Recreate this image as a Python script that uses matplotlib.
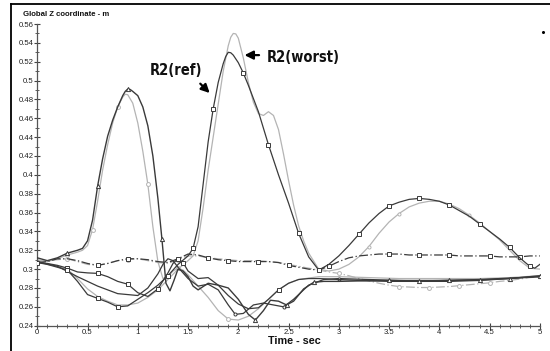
import numpy as np
import matplotlib
matplotlib.use("Agg")
import matplotlib.pyplot as plt
from matplotlib.lines import Line2D
from matplotlib.ticker import MultipleLocator, FuncFormatter

# ---- time histories of the global Z coordinate (m) ----
# first-peak pair
t_a = [0, 0.1, 0.2, 0.3, 0.4, 0.45, 0.5, 0.55, 0.6, 0.65, 0.7, 0.75, 0.8, 0.85, 0.875, 0.9,
       0.925, 0.95, 1.0, 1.05, 1.1, 1.15, 1.2, 1.24, 1.28, 1.32, 1.36, 1.4, 1.45, 1.5, 1.55,
       1.6, 1.7, 1.8, 1.9, 2.0, 2.1, 2.17, 2.25, 2.32, 2.4, 2.48, 2.55, 2.65, 2.75, 2.85, 3.0,
       3.2, 3.5, 3.8, 4.1, 4.4, 4.7, 5.0]
z_a = [0.312, 0.309, 0.312, 0.317, 0.320, 0.322, 0.330, 0.352, 0.388, 0.417, 0.441, 0.458,
       0.472, 0.484, 0.4885, 0.491, 0.4905, 0.4885, 0.484, 0.472, 0.452, 0.420, 0.375, 0.332,
       0.285, 0.277, 0.288, 0.300, 0.298, 0.292, 0.282, 0.278, 0.285, 0.283, 0.280, 0.268,
       0.252, 0.246, 0.256, 0.267, 0.266, 0.262, 0.266, 0.279, 0.286, 0.287, 0.287, 0.2875,
       0.288, 0.2875, 0.288, 0.2885, 0.290, 0.293]

t_b = [0, 0.1, 0.2, 0.3, 0.4, 0.45, 0.5, 0.55, 0.6, 0.65, 0.7, 0.75, 0.8, 0.85, 0.875, 0.9,
       0.95, 1.0, 1.05, 1.1, 1.15, 1.2, 1.25, 1.3, 1.35, 1.4, 1.45, 1.5, 1.6, 1.7, 1.8, 1.9,
       2.0, 2.1, 2.2, 2.3, 2.4, 2.5, 2.6, 2.8, 3.0, 3.3, 3.6, 4.0, 4.4, 4.7, 5.0]
z_b = [0.310, 0.308, 0.311, 0.315, 0.318, 0.320, 0.325, 0.342, 0.372, 0.405, 0.432, 0.455,
       0.472, 0.4825, 0.4855, 0.485, 0.476, 0.455, 0.425, 0.390, 0.345, 0.308, 0.290, 0.292,
       0.298, 0.301, 0.299, 0.294, 0.282, 0.270, 0.256, 0.247, 0.246, 0.250, 0.258, 0.268,
       0.278, 0.285, 0.289, 0.292, 0.292, 0.291, 0.290, 0.290, 0.290, 0.291, 0.293]

# R2 reference
t_ref = [0, 0.1, 0.2, 0.3, 0.4, 0.5, 0.6, 0.7, 0.8, 0.9, 1.0, 1.1, 1.2, 1.3, 1.4, 1.5, 1.55, 1.6,
         1.65, 1.7, 1.75, 1.8, 1.85, 1.875, 1.9, 1.925, 1.95, 2.0, 2.05, 2.1, 2.2, 2.3, 2.4, 2.5,
         2.6, 2.7, 2.8, 2.9, 3.0, 3.1, 3.2, 3.3, 3.4, 3.5, 3.6, 3.7, 3.8, 3.9, 4.0, 4.1, 4.2,
         4.3, 4.4, 4.5, 4.6, 4.7, 4.8, 4.9, 4.95, 5.0]
z_ref = [0.307, 0.305, 0.302, 0.299, 0.287, 0.273, 0.269, 0.265, 0.260, 0.261, 0.268, 0.275,
         0.283, 0.293, 0.305, 0.314, 0.322, 0.345, 0.390, 0.435, 0.470, 0.498, 0.518, 0.5255,
         0.530, 0.5295, 0.527, 0.519, 0.508, 0.495, 0.467, 0.432, 0.400, 0.370, 0.338, 0.313,
         0.299, 0.305, 0.314, 0.325, 0.337, 0.349, 0.359, 0.367, 0.371, 0.374, 0.375, 0.374,
         0.372, 0.368, 0.362, 0.356, 0.348, 0.340, 0.332, 0.323, 0.312, 0.303, 0.301, 0.305]

# R2 worst
t_worst = [0, 0.1, 0.2, 0.3, 0.4, 0.5, 0.6, 0.7, 0.8, 0.9, 1.0, 1.1, 1.2, 1.3, 1.4, 1.5, 1.55,
           1.6, 1.65, 1.7, 1.75, 1.8, 1.85, 1.9, 1.925, 1.95, 1.975, 2.0, 2.05, 2.1, 2.15, 2.2,
           2.25, 2.3, 2.35, 2.4, 2.45, 2.5, 2.55, 2.6, 2.65, 2.7, 2.8, 2.9, 3.0, 3.1, 3.2, 3.3,
           3.4, 3.5, 3.6, 3.7, 3.8, 3.9, 4.0, 4.1, 4.2, 4.3, 4.4, 4.5, 4.6, 4.7, 4.8, 4.9, 5.0]
z_worst = [0.308, 0.305, 0.303, 0.300, 0.290, 0.279, 0.271, 0.266, 0.262, 0.262, 0.264, 0.270,
           0.278, 0.289, 0.300, 0.309, 0.314, 0.330, 0.365, 0.405, 0.440, 0.475, 0.510, 0.537,
           0.546, 0.550, 0.5495, 0.545, 0.524, 0.498, 0.477, 0.465, 0.463, 0.467, 0.463, 0.448,
           0.422, 0.394, 0.368, 0.346, 0.330, 0.317, 0.300, 0.298, 0.300, 0.305, 0.313, 0.324,
           0.338, 0.350, 0.359, 0.366, 0.370, 0.372, 0.372, 0.369, 0.364, 0.357, 0.349, 0.340,
           0.331, 0.320, 0.309, 0.301, 0.300]

# near-flat pair
t_flat = [round(0.1 * i, 1) for i in range(51)]
z_e = [0.307, 0.308, 0.311, 0.311, 0.309, 0.306, 0.304, 0.306, 0.309, 0.311,
       0.311, 0.310, 0.308, 0.307, 0.311, 0.316, 0.315, 0.312, 0.310, 0.309,
       0.308, 0.308, 0.308, 0.308, 0.307, 0.304, 0.302, 0.300, 0.299, 0.303,
       0.308, 0.312, 0.314, 0.315, 0.316, 0.316, 0.316, 0.315, 0.315, 0.315,
       0.315, 0.315, 0.314, 0.314, 0.314, 0.314, 0.313, 0.313, 0.313, 0.314, 0.314]
z_f = [0.308, 0.309, 0.310, 0.311, 0.308, 0.305, 0.304, 0.306, 0.309, 0.310,
       0.311, 0.309, 0.307, 0.306, 0.310, 0.314, 0.314, 0.312, 0.311, 0.310,
       0.309, 0.309, 0.309, 0.308, 0.307, 0.305, 0.303, 0.301, 0.299, 0.297,
       0.2955, 0.293, 0.290, 0.2875, 0.285, 0.283, 0.2815, 0.281, 0.2805, 0.2805,
       0.281, 0.2815, 0.2825, 0.2835, 0.2845, 0.2855, 0.287, 0.288, 0.2895, 0.291, 0.292]

# low-lying pair
t_g = [0, 0.1, 0.2, 0.3, 0.4, 0.5, 0.6, 0.7, 0.8, 0.9, 1.0, 1.1, 1.2, 1.3, 1.35, 1.4, 1.45,
       1.5, 1.6, 1.7, 1.8, 1.9, 2.0, 2.1, 2.2, 2.3, 2.4, 2.5, 2.6, 2.7, 2.8, 3.0, 3.2, 3.5,
       3.8, 4.1, 4.4, 4.7, 5.0]
z_g = [0.307, 0.306, 0.304, 0.301, 0.297, 0.296, 0.2955, 0.292, 0.287, 0.284, 0.275, 0.271,
       0.279, 0.296, 0.306, 0.311, 0.307, 0.298, 0.290, 0.291, 0.283, 0.272, 0.263, 0.258,
       0.259, 0.268, 0.278, 0.285, 0.289, 0.290, 0.290, 0.289, 0.288, 0.287, 0.287, 0.287,
       0.288, 0.290, 0.292]

t_h = [0, 0.2, 0.4, 0.6, 0.8, 1.0, 1.1, 1.2, 1.25, 1.3, 1.35, 1.4, 1.5, 1.6, 1.7, 1.8, 1.9,
       1.97, 2.05, 2.15, 2.25, 2.35, 2.45, 2.55, 2.7, 2.85, 3.0, 3.3, 3.6, 4.0, 4.4, 4.8, 5.0]
z_h = [0.308, 0.303, 0.292, 0.282, 0.274, 0.272, 0.280, 0.295, 0.305, 0.311, 0.309, 0.302,
       0.290, 0.282, 0.284, 0.278, 0.262, 0.252, 0.253, 0.262, 0.264, 0.262, 0.260, 0.268,
       0.283, 0.289, 0.290, 0.289, 0.288, 0.288, 0.289, 0.291, 0.292]

y_ticks = [0.24, 0.26, 0.28, 0.30, 0.32, 0.34, 0.36, 0.38, 0.40, 0.42, 0.44, 0.46, 0.48,
           0.50, 0.52, 0.54, 0.56]
x_ticks = [0, 0.5, 1, 1.5, 2, 2.5, 3, 3.5, 4, 4.5, 5]

DARK = "#3a3a3a"
LIGHT = "#b4b4b4"

plt.rcParams["font.family"] = ["Liberation Sans", "DejaVu Sans"]

fig = plt.figure(figsize=(5.5, 3.51), dpi=100)
ax = fig.add_axes([0.0678, 0.0721, 0.9137, 0.8595])


def marks_at(t, when):
    t = np.asarray(t)
    return sorted({int(np.argmin(np.abs(t - w))) for w in when})


def trace(t, z, color, marker, when, ls="-", ms=3.2, lw=0.9, z_order=2):
    ax.plot(t, z, color=color, lw=lw, ls=ls, marker=marker, ms=ms,
            markevery=marks_at(t, when), mfc="white", mec=color, mew=0.7,
            zorder=z_order)


# light traces underneath
trace(t_b, z_b, LIGHT, "o", [0.3, 0.55, 0.8, 1.1, 1.4, 1.9, 2.4], ms=2.8)
trace(t_worst, z_worst, LIGHT, "o", [3.3, 3.6, 4.3], ms=2.2)
trace(t_flat, z_f, LIGHT, "o", [0.3, 0.6, 0.9, 1.4, 3.0, 3.6, 3.9, 4.2, 4.5], ls=(0, (7, 2, 1, 2)), ms=2.8)

# dark traces on top
trace(t_h, z_h, DARK, "o", [1.97, 2.45, 3.0], ms=2.2, z_order=3)
trace(t_g, z_g, DARK, "s", [0.3, 0.6, 0.9, 1.2, 1.45, 2.4], ms=3.0, z_order=3)
trace(t_flat, z_e, DARK, "s", [0.6, 0.95, 1.45, 1.7, 1.95, 2.25, 2.55, 2.9, 3.5, 3.8, 4.1, 4.5, 4.8],
      ls=(0, (7, 2, 1, 2)), ms=3.0, z_order=3)
trace(t_a, z_a, DARK, "^", [0.3, 0.62, 0.9, 1.24, 2.17, 2.48, 2.8, 3.5, 3.8, 4.1, 4.4, 4.7, 5.0],
      ms=3.0, lw=1.0, z_order=4)
trace(t_ref, z_ref, DARK, "s", [0.0, 0.3, 0.6, 0.8, 1.3, 1.55, 1.75, 2.05, 2.3, 2.6, 2.8, 3.2,
                                3.5, 3.8, 4.1, 4.4, 4.7, 4.9], ms=3.0, z_order=4)

ax.set_xlim(0, 5)
ax.set_ylim(0.24, 0.56)
ax.set_xticks(x_ticks)
ax.set_yticks(y_ticks)
ax.xaxis.set_minor_locator(MultipleLocator(0.1))
ax.yaxis.set_minor_locator(MultipleLocator(0.01))
fmt = FuncFormatter(lambda v, p: f"{v:g}")
ax.xaxis.set_major_formatter(fmt)
ax.yaxis.set_major_formatter(fmt)
ax.tick_params(which="major", direction="inout", length=4, width=0.8, color="#444444",
               labelsize=5.6, pad=0.5, labelcolor="#222222")
ax.tick_params(which="minor", direction="inout", length=2.5, width=0.6, color="#444444")
for side in ("top", "right"):
    ax.spines[side].set_visible(False)
for side in ("left", "bottom"):
    ax.spines[side].set_color("#555555")
    ax.spines[side].set_linewidth(0.9)
ax.set_facecolor("white")

fig.text(23 / 550, 1 - 15 / 351, "Global Z coordinate - m", fontsize=5.6, fontweight="bold",
         ha="left", va="center", color="#111111")
fig.text(294.5 / 550, 1 - 341 / 351, "Time - sec", fontsize=7.8, fontweight="bold",
         ha="center", va="center", color="#111111")

label_font = ["DejaVu Sans", "Liberation Sans"]
ax.text(1.378, 0.511, "R2(ref)", fontsize=10.5, fontweight="bold", family=label_font,
        fontstretch="condensed", ha="center", va="center", color="#111111")
ax.text(2.647, 0.5245, "R2(worst)", fontsize=10.5, fontweight="bold", family=label_font,
        fontstretch="condensed", ha="center", va="center", color="#111111")
ax.annotate("", xy=(1.735, 0.4847), xytext=(1.602, 0.4988),
            arrowprops=dict(arrowstyle="-|>,head_length=0.5,head_width=0.25", color="black", lw=1.6))
ax.annotate("", xy=(2.034, 0.527), xytext=(2.234, 0.527),
            arrowprops=dict(arrowstyle="-|>,head_length=0.5,head_width=0.25", color="black", lw=1.6))

# outer frame: left and top rules
fig.add_artist(Line2D([11 / 550, 11 / 550], [0, 1 - 4 / 351], color="black", lw=1.3,
                      transform=fig.transFigure))
fig.add_artist(Line2D([11 / 550, 1], [1 - 4 / 351, 1 - 4 / 351], color="black", lw=1.3,
                      transform=fig.transFigure))
fig.add_artist(Line2D([543 / 550], [1 - 31.5 / 351], marker="o", ms=1.2, color="black",
                      transform=fig.transFigure))

fig.savefig("out.png", dpi=100, facecolor="white")
